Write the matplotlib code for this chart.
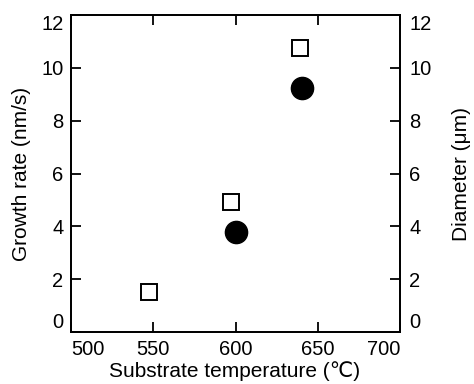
import matplotlib
matplotlib.use("Agg")
import matplotlib.pyplot as plt

plt.rcParams['font.family'] = ['Liberation Sans', 'DejaVu Sans']

sq_temp = [547.5, 597.5, 639.0]
sq_val = [1.5, 4.93, 10.75]
ci_temp = [600.0, 640.5]
ci_val = [3.8, 9.22]

xticks = [500, 550, 600, 650, 700]
yticks = [0, 2, 4, 6, 8, 10, 12]

fig = plt.figure(figsize=(4.74, 3.84), dpi=100)
ax = fig.add_axes([71/474, 1 - 332/384, (400-71)/474, (332-15)/384])
ax2 = ax.twinx()

ax.plot(sq_temp, sq_val, linestyle='none', marker='s', markersize=11,
        markerfacecolor='white', markeredgecolor='black', markeredgewidth=1.4, zorder=3)
ax.plot(ci_temp, ci_val, linestyle='none', marker='o', markersize=16,
        markerfacecolor='black', markeredgecolor='black', zorder=3)

ax.set_xlim(500, 700)
ax.set_ylim(0, 12)
ax2.set_ylim(0, 12)
ax.set_xticks(xticks)
ax.set_yticks(yticks)
ax2.set_yticks(yticks)

for a in (ax, ax2):
    for s in a.spines.values():
        s.set_linewidth(1.3)
ax.tick_params(axis='x', direction='in', length=7, width=1.3, labelsize=14.5, top=True, pad=5.5)
ax.tick_params(axis='y', direction='in', length=7, width=1.3, labelsize=14.5, pad=5.5)
ax2.tick_params(direction='in', length=7, width=1.3, labelsize=14.5, pad=6.5)

# edge labels kept inside as in the reference
xl = ax.get_xticklabels()
xl[0].set_ha('left')
xl[-1].set_ha('right')
for a in (ax, ax2):
    yl = a.get_yticklabels()
    yl[0].set_va('bottom')
    yl[-1].set_va('top')

ax.set_xlabel('Substrate temperature (\u2103)', fontsize=15)
ax.set_ylabel('Growth rate (nm/s)', fontsize=15)
ax2.set_ylabel('Diameter (\u03bcm)', fontsize=15)
ax.xaxis.set_label_coords(0.498, -0.123)
ax.yaxis.set_label_coords(-0.149, 0.5)
ax2.yaxis.set_label_coords(1.188, 0.5)
ax.xaxis.label.set_va('center')
ax.yaxis.label.set_va('center')
ax2.yaxis.label.set_va('center')

fig.savefig('out.png', dpi=100)
